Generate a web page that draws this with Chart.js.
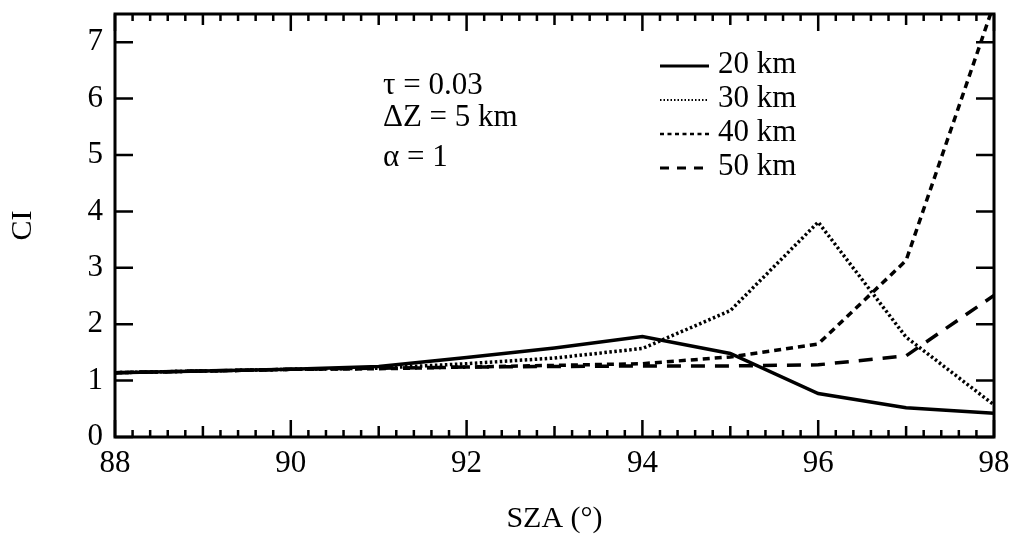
<!DOCTYPE html>
<html>
<head>
<meta charset="utf-8">
<script src="https://cdn.jsdelivr.net/npm/chart.js@4"></script>
<style>
  html, body { margin: 0; padding: 0; background: #fff; }
  #wrap { width: 1012px; height: 538px; position: relative; }
</style>
</head>
<body>
<div id="wrap"><canvas id="ciChart"></canvas></div>
<script>
// --- Data ---
const sza = [88, 89, 90, 91, 92, 93, 94, 95, 96, 97, 98];
const ci20 = [1.14, 1.17, 1.20, 1.25, 1.41, 1.58, 1.78, 1.48, 0.77, 0.52, 0.42];
const ci30 = [1.14, 1.17, 1.20, 1.22, 1.30, 1.40, 1.57, 2.24, 3.81, 1.77, 0.57];
const ci40 = [1.14, 1.17, 1.20, 1.21, 1.24, 1.27, 1.30, 1.42, 1.65, 3.13, 7.68];
const ci50 = [1.14, 1.17, 1.20, 1.22, 1.24, 1.25, 1.26, 1.26, 1.28, 1.44, 2.51];
const seriesLabels = ['20 km', '30 km', '40 km', '50 km'];
const xTicks = [88, 90, 92, 94, 96, 98];
const yTicks = [0, 1, 2, 3, 4, 5, 6, 7];
const noteLines = ['τ = 0.03', 'ΔZ = 5 km', 'α = 1'];

const FONT = 'Liberation Serif, "Times New Roman", serif';
const pts = arr => sza.map((x, i) => ({ x: x, y: arr[i] }));

// legend sample dashes (drawn shorter than in the plot)
const legendDash = [[], [1.5, 2], [4, 3.5], [9, 8]];
const legendWidth = [3, 2, 2.5, 3];

// --- Box, inward ticks, legend and note ---
const framePlugin = {
    id: 'frame',
    afterDatasetsDraw(chart) {
        const ctx = chart.ctx;
        const a = chart.chartArea;
        const xs = chart.scales.x;
        const ys = chart.scales.y;
        ctx.save();
        ctx.strokeStyle = '#000';
        ctx.setLineDash([]);

        // ticks on x (bottom and top), minor every 0.2
        ctx.lineWidth = 2.5;
        for (let i = 0; i <= 50; i++) {
            const px = xs.getPixelForValue(88 + i * 0.2);
            const len = (i % 10 === 0) ? 17 : (i % 5 === 0 ? 11 : 7);
            ctx.beginPath();
            ctx.moveTo(px, a.bottom); ctx.lineTo(px, a.bottom - len);
            ctx.moveTo(px, a.top); ctx.lineTo(px, a.top + len);
            ctx.stroke();
        }
        // ticks on y (left and right)
        yTicks.forEach(v => {
            const py = ys.getPixelForValue(v);
            ctx.beginPath();
            ctx.moveTo(a.left, py); ctx.lineTo(a.left + 18, py);
            ctx.moveTo(a.right, py); ctx.lineTo(a.right - 18, py);
            ctx.stroke();
        });
        // box
        ctx.lineWidth = 3;
        ctx.strokeRect(a.left, a.top, a.right - a.left, a.bottom - a.top);

        // legend
        ctx.font = '31px ' + FONT;
        ctx.fillStyle = '#000';
        ctx.textBaseline = 'middle';
        ctx.textAlign = 'left';
        const rowY = [65, 99, 133, 167];
        chart.data.datasets.forEach((ds, i) => {
            ctx.lineWidth = legendWidth[i];
            ctx.setLineDash(legendDash[i]);
            ctx.beginPath();
            ctx.moveTo(660, rowY[i] + 1); ctx.lineTo(709, rowY[i] + 1);
            ctx.stroke();
            ctx.fillText(ds.label, 718, rowY[i]);
        });
        ctx.setLineDash([]);

        // note
        const noteY = [86, 118, 158];
        noteLines.forEach((t, i) => ctx.fillText(t, 383, noteY[i]));
        ctx.restore();
    }
};

// --- Chart ---
const ciChart = new Chart(document.getElementById('ciChart').getContext('2d'), {
    type: 'line',
    data: {
        datasets: [
            { label: seriesLabels[0], data: pts(ci20), borderColor: '#000', borderWidth: 3.5, borderDash: [] },
            { label: seriesLabels[1], data: pts(ci30), borderColor: '#000', borderWidth: 3.5, borderDash: [2.5, 2.5] },
            { label: seriesLabels[2], data: pts(ci40), borderColor: '#000', borderWidth: 3.5, borderDash: [7, 5] },
            { label: seriesLabels[3], data: pts(ci50), borderColor: '#000', borderWidth: 3.5, borderDash: [14, 10] }
        ]
    },
    options: {
        responsive: true,
        maintainAspectRatio: false,
        animation: false,
        layout: { padding: { left: 0, right: 18, top: 14, bottom: 0 } },
        elements: { point: { radius: 0 }, line: { tension: 0, fill: false } },
        plugins: { legend: { display: false }, tooltip: { enabled: false } },
        scales: {
            x: {
                type: 'linear',
                min: 88, max: 98,
                grid: { display: false, drawTicks: false },
                border: { display: false },
                afterBuildTicks(s) { s.ticks = xTicks.map(v => ({ value: v })); },
                ticks: {
                    autoSkip: false, maxRotation: 0, padding: 8,
                    color: '#000', font: { family: FONT, size: 31 }
                },
                title: {
                    display: true, text: 'SZA (°)', color: '#000',
                    font: { family: FONT, size: 30 },
                    padding: { top: 0, bottom: 1 }
                },
                afterFit(s) { s.height = 101; s.paddingLeft = 0; s.paddingRight = 0; }
            },
            y: {
                min: 0, max: 7.5,
                grid: { display: false, drawTicks: false },
                border: { display: false },
                afterBuildTicks(s) { s.ticks = yTicks.map(v => ({ value: v })); },
                ticks: {
                    padding: 12, color: '#000',
                    font: { family: FONT, size: 31 }
                },
                title: {
                    display: true, text: 'CI', color: '#000',
                    font: { family: FONT, size: 30 },
                    padding: { top: 5, bottom: 0 }
                },
                afterFit(s) { s.width = 115; s.paddingTop = 0; s.paddingBottom = 0; }
            }
        }
    },
    plugins: [framePlugin]
});
</script>
</body>
</html>
